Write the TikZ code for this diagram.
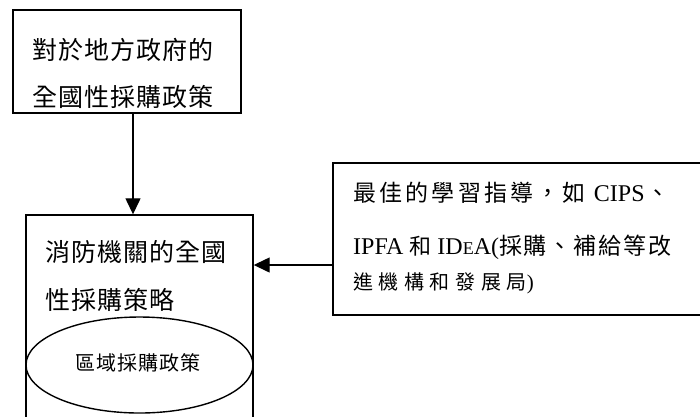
\documentclass[tikz,border=0pt]{standalone}
\usepackage{fontspec}
\setmainfont{Liberation Serif}
\newfontfamily\cjk{Noto Sans CJK TC}
\newfontfamily\cjkL[LetterSpace=4]{Noto Sans CJK TC}
\newfontfamily\cjkE[LetterSpace=5]{Noto Sans CJK TC}
\newfontfamily\cjkM[LetterSpace=14]{Noto Sans CJK TC}
\newfontfamily\cjkN[LetterSpace=8]{Noto Sans CJK TC}
\newfontfamily\cjkS[LetterSpace=28]{Noto Sans CJK TC}
\usetikzlibrary{arrows.meta,shapes.geometric}
\tikzset{
  box/.style={draw, line width=1.4pt, inner sep=0pt},
  txt/.style={anchor=west, inner sep=0pt},
  arr/.style={line width=1.3pt, -{Triangle[length=16pt,width=15pt]}},
  big/.style={font=\cjkL\fontsize{25}{25}\selectfont},
  small/.style={font=\cjkE\fontsize{20}{20}\selectfont}
}
\begin{document}
\begin{tikzpicture}[x=1pt,y=-1pt]
\useasboundingbox (0,0) rectangle (700,416);
\clip (0,0) rectangle (700,416);
% boxes
\node[box, minimum width=228pt, minimum height=103pt] (top) at (127,61.5) {};
\node[box, minimum width=227pt, minimum height=225pt] (mid) at (139.5,327.5) {};
\node[box, ellipse, minimum width=227pt, minimum height=96pt] (ell) at (139.5,365) {};
\node[box, minimum width=387pt, minimum height=152pt] (rt) at (526.5,239) {};
% texts
\node[txt, big] (t1) at (32,50) {對於地方政府的};
\node[txt, big] (t2) at (32,97) {全國性採購政策};
\node[txt, big] (m1) at (45,252) {消防機關的全國};
\node[txt, big] (m2) at (45,300) {性採購策略};
\node[txt, small] (e1) at (75,363) {區域採購政策};
\node[txt] (r1) at (353,193) {{\cjkM\fontsize{23}{23}\selectfont 最佳的學習指導，如}\hspace{8pt}\fontsize{24}{24}\selectfont CIPS\hspace{2pt}{\cjk\fontsize{23}{23}\selectfont 、}};
\node[txt] (r2) at (353,247) {\fontsize{24}{24}\selectfont IPFA {\cjk\fontsize{22}{22}\selectfont 和} ID{\fontsize{18}{18}\selectfont E}A({\cjkN\fontsize{23}{23}\selectfont 採購、補給等改}};
\node[txt] (r3) at (353,283) {{\cjkS\fontsize{20}{20}\selectfont 進機構和發展局}\fontsize{21}{21}\selectfont )};
% connectors
\coordinate (hy) at (0,265);
\draw[arr] ([xshift=6pt]top.south) -- ([xshift=6pt]top.south |- mid.north);
\draw[arr] (rt.west |- hy) -- (mid.east |- hy);
\end{tikzpicture}
\end{document}
